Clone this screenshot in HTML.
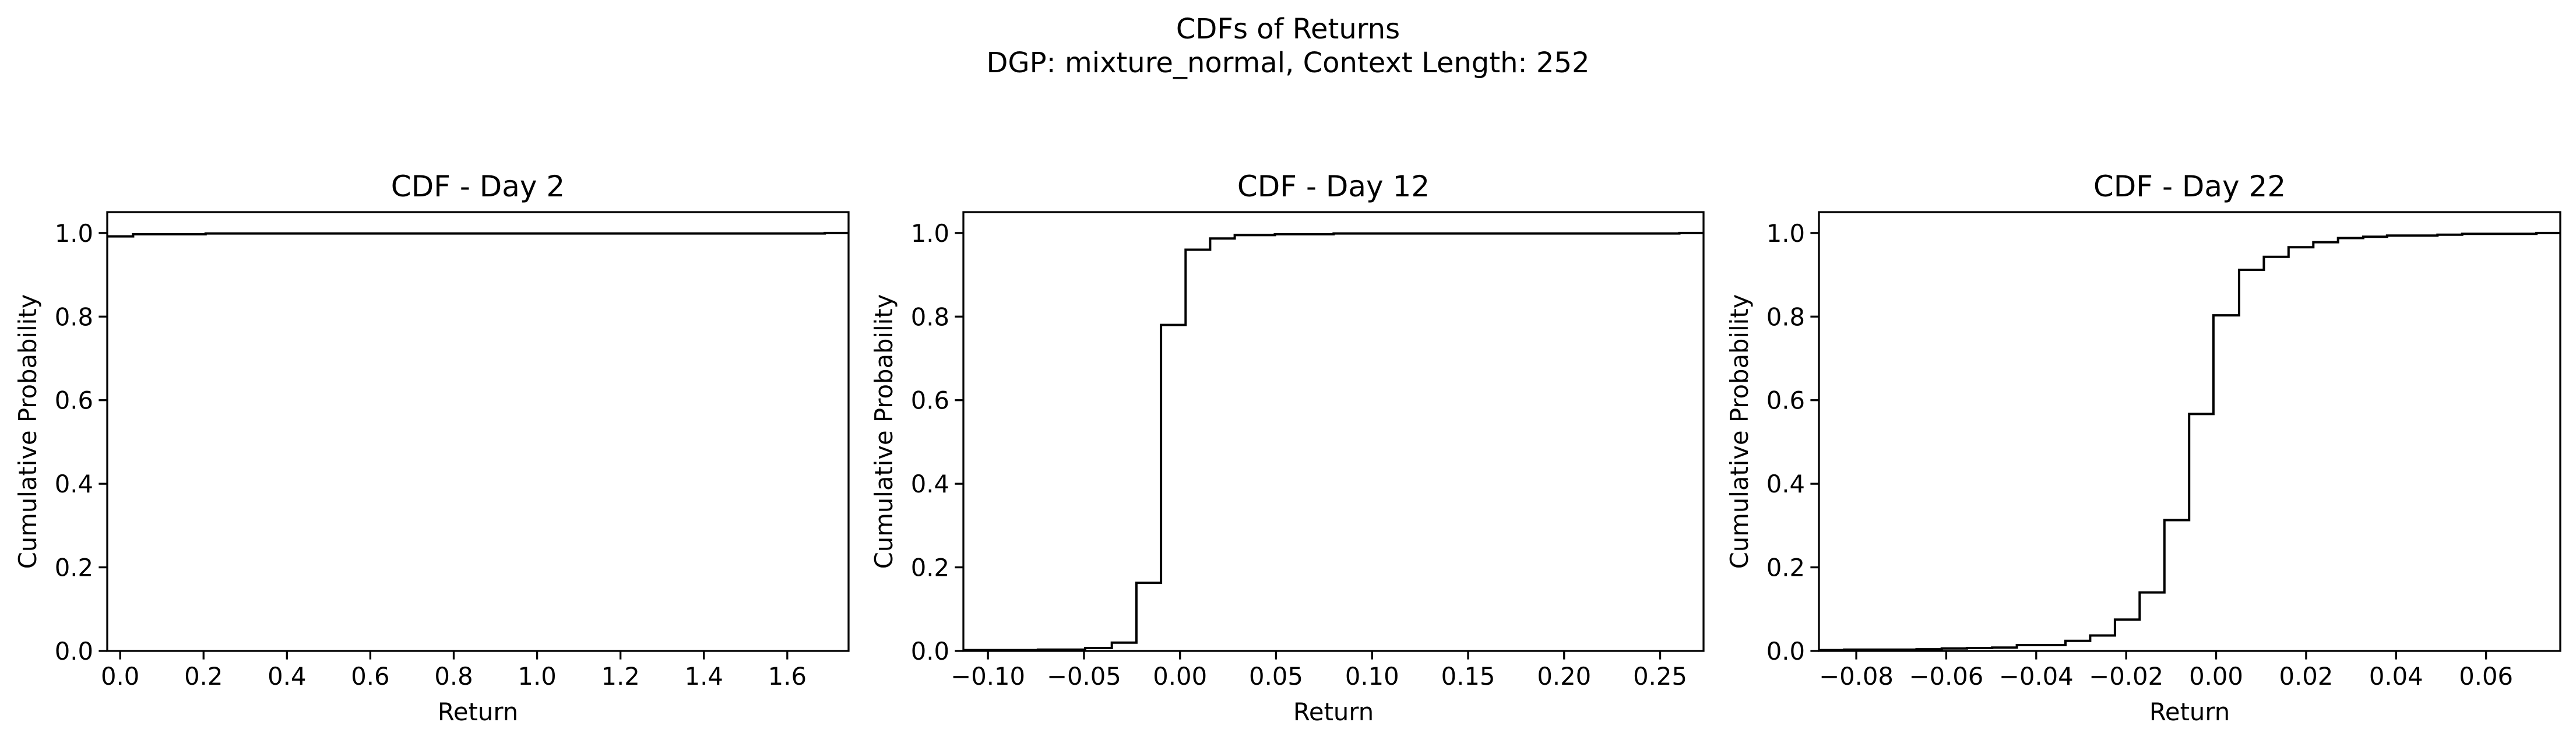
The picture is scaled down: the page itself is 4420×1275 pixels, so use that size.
<!DOCTYPE html>
<html><head><meta charset="utf-8"><style>
html,body{margin:0;padding:0;background:#fff;}
svg{display:block;font-family:"DejaVu Sans","Liberation Sans",sans-serif;}
</style></head><body>
<svg id="fig" width="4420" height="1275" viewBox="0 0 4420 1275" xmlns="http://www.w3.org/2000/svg">
<text x="2210" y="66" text-anchor="middle" font-size="48">CDFs of Returns</text>
<text x="2210" y="124" text-anchor="middle" font-size="48">DGP: mixture_normal, Context Length: 252</text>
</svg>
<script>
// Day 2 data
const day2X = [-0.031, 0.031, 0.205, 1.69, 1.747];
const day2Y = [0.992, 0.997, 0.999, 1.0];
const day2Ticks = [0.0, 0.2, 0.4, 0.6, 0.8, 1.0, 1.2, 1.4, 1.6];
const day2Labels = ["0.0","0.2","0.4","0.6","0.8","1.0","1.2","1.4","1.6"];
// Day 12 data
const day12X = [-0.1128, -0.074, -0.0494, -0.0355, -0.0227, -0.0099, 0.0029, 0.0157, 0.0285, 0.0494, 0.080, 0.260, 0.2726];
const day12Y = [0.002, 0.003, 0.007, 0.02, 0.163, 0.78, 0.96, 0.987, 0.995, 0.997, 0.999, 1.0];
const day12Ticks = [-0.10, -0.05, 0.00, 0.05, 0.10, 0.15, 0.20, 0.25];
const day12Labels = ["\u22120.10","\u22120.05","0.00","0.05","0.10","0.15","0.20","0.25"];
// Day 22 data
const day22X = [-0.0883, -0.0827, -0.0666, -0.0610, -0.0554, -0.0498, -0.0443, -0.0335, -0.0280, -0.0225, -0.0170, -0.0115, -0.0060, -0.0006, 0.0051, 0.0106, 0.0161, 0.0216, 0.0271, 0.0327, 0.0380, 0.0492, 0.0547, 0.0712, 0.0765];
const day22Y = [0.002, 0.003, 0.004, 0.006, 0.007, 0.008, 0.014, 0.024, 0.037, 0.075, 0.14, 0.313, 0.567, 0.803, 0.912, 0.943, 0.966, 0.978, 0.988, 0.991, 0.994, 0.996, 0.998, 1.0];
const day22Ticks = [-0.08, -0.06, -0.04, -0.02, 0.00, 0.02, 0.04, 0.06];
const day22Labels = ["\u22120.08","\u22120.06","\u22120.04","\u22120.02","0.00","0.02","0.04","0.06"];
const yTicks = [0.0, 0.2, 0.4, 0.6, 0.8, 1.0];
const yLabels = ["0.0","0.2","0.4","0.6","0.8","1.0"];

const NS = "http://www.w3.org/2000/svg";
const svg = document.getElementById('fig');
function mk(tag, attrs, parent){const e=document.createElementNS(NS,tag);for(const k in attrs)e.setAttribute(k,attrs[k]);(parent||svg).appendChild(e);return e;}

const panels = [
 {name:'day-2', title:'CDF - Day 2', left:184, right:1456, xmin:-0.031, xmax:1.747, xs:day2X, ys:day2Y, ticks:day2Ticks, labels:day2Labels},
 {name:'day-12', title:'CDF - Day 12', left:1653, right:2923, xmin:-0.1128, xmax:0.2726, xs:day12X, ys:day12Y, ticks:day12Ticks, labels:day12Labels},
 {name:'day-22', title:'CDF - Day 22', left:3121, right:4393, xmin:-0.0883, xmax:0.0765, xs:day22X, ys:day22Y, ticks:day22Ticks, labels:day22Labels}
];
const axTop=364, axBottom=1117, ymin=0, ymax=1.05;

panels.forEach(p=>{
  const g = mk('g',{});
  
  
  const sx = v => p.left + (v - p.xmin)/(p.xmax - p.xmin)*(p.right - p.left);
  const sy = v => axBottom - (v - ymin)/(ymax - ymin)*(axBottom - axTop);
  let d = '';
  for (let i=0;i<p.ys.length;i++){
    const x0=sx(p.xs[i]), x1=sx(p.xs[i+1]), y=sy(p.ys[i]);
    d += (i===0?'M':'L') + x0.toFixed(1)+' '+y.toFixed(1)+' L'+x1.toFixed(1)+' '+y.toFixed(1)+' ';
  }
  const line = mk('path',{d:d,fill:'none',stroke:'#000','stroke-width':4,'stroke-linejoin':'miter'},g);
  
  
  const fr = mk('rect',{x:p.left,y:axTop,width:p.right-p.left,height:axBottom-axTop,fill:'none',stroke:'#000','stroke-width':3.3},g);
  
  
  p.ticks.forEach((t,i)=>{
    const x=sx(t);
    mk('line',{x1:x,x2:x,y1:axBottom,y2:axBottom+14.6,stroke:'#000','stroke-width':3.3},g);
    const tx = mk('text',{x:x,y:axBottom+58,'text-anchor':'middle','font-size':41.7},g);
    tx.textContent = p.labels[i];
    
    
  });
  yTicks.forEach((t,i)=>{
    const y=sy(t);
    mk('line',{x1:p.left-14.6,x2:p.left,y1:y,y2:y,stroke:'#000','stroke-width':3.3},g);
    const ty = mk('text',{x:p.left-24,y:y+15,'text-anchor':'end','font-size':41.7},g);
    ty.textContent = yLabels[i];
    
    
  });
  const title = mk('text',{x:(p.left+p.right)/2,y:axTop-27,'text-anchor':'middle','font-size':50},g);
  title.textContent = p.title;
  
  
  const xl = mk('text',{x:(p.left+p.right)/2,y:1236,'text-anchor':'middle','font-size':41.7},g);
  xl.textContent = 'Return';
  
  
  const yx = p.left - 122, yc = (axTop+axBottom)/2;
  const yl = mk('text',{x:yx,y:yc,'text-anchor':'middle','font-size':41.7,transform:'rotate(-90 '+yx+' '+yc+')'},g);
  yl.textContent = 'Cumulative Probability';
  
  
});
</script>
</body></html>
